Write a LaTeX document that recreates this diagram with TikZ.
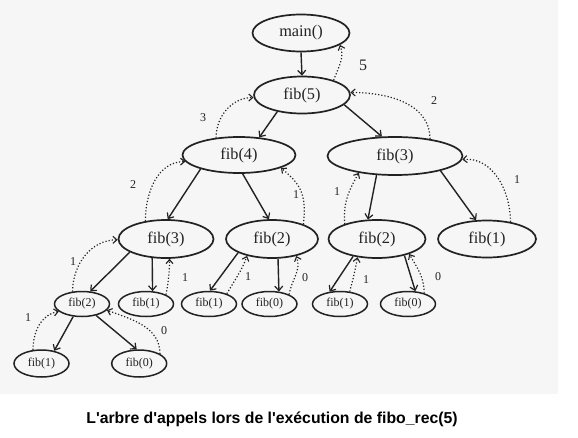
\documentclass[tikz,border=0pt]{standalone}
\usepackage{fontspec}
\setmainfont{Liberation Serif}
\newfontfamily\capfont{Liberation Sans}
\usetikzlibrary{arrows.meta,shapes.geometric}
\definecolor{ink}{HTML}{222222}
\definecolor{scan}{HTML}{F6F6F6}
\tikzset{
  fnode/.style={ellipse,draw=ink,line width=1.7pt,inner sep=0pt,text=ink,font=\fontsize{16.3}{18}\selectfont},
  snode/.style={ellipse,draw=ink,line width=1.5pt,inner sep=0pt,text=ink,minimum width=55pt,minimum height=25pt,font=\fontsize{12}{14}\selectfont},
  callarrow/.style={draw=ink,line width=1.4pt,-{Straight Barb[length=4.5pt,width=8pt,line width=1.2pt]}},
  retarrow/.style={draw=ink,line width=1.2pt,dotted,-{Straight Barb[length=4pt,width=7pt,line width=1.1pt]}},
  retlabel/.style={text=ink,font=\fontsize{12}{14}\selectfont,inner sep=0pt},
}
\begin{document}
\begin{tikzpicture}[x=1pt,y=-1pt]
\useasboundingbox (0,0) rectangle (578,437);
\fill[scan] (0,0) rectangle (558,394);
% level 0-2
\node[fnode,minimum width=97pt,minimum height=37pt] (main) at (301,33) {main()};
\node[fnode,minimum width=96pt,minimum height=37pt] (f5) at (302,95) {fib(5)};
\node[fnode,minimum width=113pt,minimum height=36pt] (f4) at (239,155) {fib(4)};
\node[fnode,minimum width=135pt,minimum height=38pt] (f3r) at (395,156) {fib(3)};
% level 3
\node[fnode,minimum width=95pt,minimum height=38pt] (f3l) at (166,239) {fib(3)};
\node[fnode,minimum width=92pt,minimum height=38pt] (f2m) at (272,239) {fib(2)};
\node[fnode,minimum width=97pt,minimum height=38pt] (f2r) at (377,239) {fib(2)};
\node[fnode,minimum width=98pt,minimum height=37pt] (f1r) at (487,239) {fib(1)};
% level 4
\node[snode] (f2s) at (82,304) {fib(2)};
\node[snode] (f1s) at (146,304) {fib(1)};
\node[snode] (f1m) at (209,304) {fib(1)};
\node[snode] (f0m) at (269.5,304) {fib(0)};
\node[snode] (f1rr) at (340,304) {fib(1)};
\node[snode] (f0rr) at (408,304) {fib(0)};
% level 5
\node[snode,minimum height=27pt] (f1b) at (41.5,363.5) {fib(1)};
\node[snode,minimum height=27pt] (f0b) at (139.2,363.5) {fib(0)};
% calls
\draw[callarrow] (main.south) -- (f5.north);
\draw[callarrow] (f5.214) -- (f4.41);
\draw[callarrow] (f5.347) -- (f3r.124);
\draw[callarrow] (f4.200) -- (f3l.85);
\draw[callarrow] (f4.281) -- (f2m.99);
\draw[callarrow] (f3r.226) -- (f2r.115);
\draw[callarrow] (f3r.342) -- (f1r.120);
\draw[callarrow] (f3l.200) -- (f2s.57);
\draw[callarrow] (f3l.234) -- (f1s.63);
\draw[callarrow] (f2m.202) -- (f1m.86);
\draw[callarrow] (f2m.287) -- (f0m.53);
\draw[callarrow] (f2r.216) -- (f1rr.130);
\draw[callarrow] (f2r.329) -- (f0rr.60);
\draw[callarrow] (f2s.235) -- (f1b.45);
\draw[callarrow] (f2s.321) -- (f0b.100);
% returns
\draw[retarrow] (f5.25) to[out=70,in=-70] (main.343);
\draw[retarrow] (f4.143) to[out=90,in=180] (f5.183);
\draw[retarrow] (f3r.26) to[out=90,in=0] (f5.3);
\draw[retarrow] (f3l.139) to[out=90,in=180] (f4.187);
\draw[retarrow] (f2m.25) to[out=85,in=-40,looseness=1.2] (f4.343);
\draw[retarrow] (f2r.155) to[out=95,in=-120] (f3r.205);
\draw[retarrow] (f1r.36) to[out=90,in=5] (f3r.357);
\draw[retarrow] (f2s.127) to[out=90,in=180] (f3l.181);
\draw[retarrow] (f1s.25) to[out=80,in=-90] (f3l.280);
\draw[retarrow] (f1m.30) to[out=60,in=-110] (f2m.214);
\draw[retarrow] (f0m.26) to[out=80,in=-70] (f2m.325);
\draw[retarrow] (f1rr.52) to[out=75,in=-100] (f2r.223);
\draw[retarrow] (f0rr.34) to[out=90,in=-60] (f2r.335);
\draw[retarrow] (f1b.122) to[out=90,in=190] (f2s.198);
\draw[retarrow] (f0b.25) to[out=90,in=-20] (f2s.346);
% labels
\node[retlabel,font=\fontsize{16}{18}\selectfont] (l5) at (363,65) {5};
\node[retlabel] (l3) at (203,118) {3};
\node[retlabel] (l2a) at (434,101) {2};
\node[retlabel] (l2b) at (133,185) {2};
\node[retlabel] (l1a) at (296,195) {1};
\node[retlabel] (l1b) at (337,192) {1};
\node[retlabel] (l1c) at (517,180) {1};
\node[retlabel] (l1d) at (73,262) {1};
\node[retlabel] (l1e) at (185,278) {1};
\node[retlabel] (l1f) at (248,277) {1};
\node[retlabel] (l0a) at (305,278) {0};
\node[retlabel] (l1g) at (366,280) {1};
\node[retlabel] (l0b) at (438,277) {0};
\node[retlabel] (l1h) at (28,318) {1};
\node[retlabel] (l0c) at (164,331) {0};
% caption
\node[font=\capfont\bfseries\fontsize{15.8}{18}\selectfont,text=black] (cap) at (272,419) {L'arbre d'appels lors de l'exécution de fibo\_rec(5)};
\end{tikzpicture}
\end{document}
